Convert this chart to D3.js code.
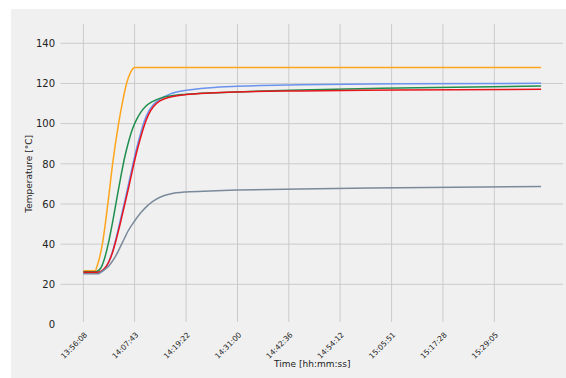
<!DOCTYPE html>
<html><head><meta charset="utf-8">
<script src="https://cdn.jsdelivr.net/npm/d3@7"></script>
<style>
html,body{margin:0;padding:0;background:#fff;}
svg{display:block;}
text{font-family:"DejaVu Sans",sans-serif;fill:#222;}
</style></head>
<body>
<svg id="chart" width="566" height="378"></svg>
<script>
// ---- data (minutes since 13:56:08, temperature in °C) ----
const startTime = "13:56:08";
const tickLabels = ["13:56:08","14:07:43","14:19:22","14:31:00","14:42:36","14:54:12","15:05:51","15:17:28","15:29:05"];
const yTicks = [0,20,40,60,80,100,120,140];

const orangeMin = [0, 2.62, 3.23, 4.29, 5.64, 6.61, 7.96, 8.87, 9.77, 10.67, 11.64, 103.54];
const orangeVal = [26.8, 26.8, 30, 40, 62, 80, 100, 111, 120, 125.5, 128, 128];

const greenMin = [0, 2.77, 3.90, 4.80, 5.71, 6.61, 7.51, 8.42, 9.32, 10.22, 11.12, 12.02, 12.93, 14.05, 15.63, 17.44, 19.69, 23.30, 28.72, 34.81, 49.03, 71.58, 103.54];
const greenVal = [26.3, 26.3, 28, 33, 41, 51, 62, 73, 83, 91, 97.5, 102, 105.5, 108.5, 111, 112.7, 113.8, 114.6, 115.3, 115.8, 116.8, 117.8, 118.7];

const blueMin = [0, 3.45, 4.80, 5.71, 6.61, 7.51, 8.42, 9.32, 10.22, 11.12, 12.02, 12.93, 13.83, 14.73, 15.86, 17.44, 19.69, 23.30, 28.72, 34.81, 49.03, 71.58, 103.54];
const blueVal = [25.6, 25.7, 27.5, 31, 36.5, 44, 52.5, 61, 70, 79, 87.5, 95, 101.5, 106, 109.5, 112.3, 114.8, 116.6, 117.9, 118.6, 119.3, 119.8, 120.1];

const redMin = [0, 3.23, 4.58, 5.71, 6.61, 7.51, 8.42, 9.32, 10.22, 11.12, 12.02, 12.93, 13.83, 14.73, 15.86, 17.44, 19.69, 23.30, 28.72, 34.81, 49.03, 71.58, 103.54];
const redVal = [26.0, 26.0, 27.5, 31, 36, 43, 51, 59.5, 68, 77, 85.5, 93, 99.5, 104.5, 108.5, 111.5, 113.3, 114.5, 115.3, 115.8, 116.3, 116.7, 117.1];

const grayMin = [0, 3.45, 3.90, 5.71, 7.29, 8.87, 10.22, 11.57, 12.93, 14.28, 15.63, 17.44, 19.69, 23.30, 28.72, 34.81, 49.03, 71.58, 103.54];
const grayVal = [25.3, 25.3, 26, 29, 34, 41, 47, 51.5, 55.5, 58.7, 61.2, 63.5, 65, 66, 66.5, 66.9, 67.5, 68.1, 68.7];

const seriesNames = ["blue","orange","green","red","gray"];
const seriesColors = ["#6a92ee","#ffa51c","#1f8f4e","#e8141c","#7a8a9b"];
const seriesMins = [blueMin, orangeMin, greenMin, redMin, grayMin];
const seriesVals = [blueVal, orangeVal, greenVal, redVal, grayVal];

// ---- drawing ----
const svg = d3.select("#chart");
const W = 566, H = 378;
svg.append("rect").attr("x",11).attr("y",9).attr("width",W-11).attr("height",H-9).attr("fill","#f0f0f0");

const plot = {left:60.5, right:564, top:23.2, bottom:324.5};
const parse = d3.timeParse("%H:%M:%S");
const t0 = parse(startTime);
const dataStart = t0;
const dataEnd = new Date(+t0 + 103.54*60000);
const span = dataEnd - dataStart;
const x = d3.scaleTime()
  .domain([new Date(+dataStart - span*0.05), new Date(+dataEnd + span*0.05)])
  .range([plot.left, plot.right]);
const y = d3.scaleLinear().domain([0,150]).range([plot.bottom, plot.top]);

const tickDates = tickLabels.map(parse);

// grid
const g = svg.append("g");
g.selectAll("line.vg").data(tickDates).enter().append("line")
  .attr("x1",d=>x(d)).attr("x2",d=>x(d))
  .attr("y1",plot.top+1).attr("y2",plot.bottom-2.5)
  .attr("stroke","#cbcbcb").attr("stroke-width",1);
g.selectAll("line.hg").data(yTicks.filter(v=>v>0)).enter().append("line")
  .attr("x1",plot.left).attr("x2",plot.right-1)
  .attr("y1",d=>y(d)).attr("y2",d=>y(d))
  .attr("stroke","#cbcbcb").attr("stroke-width",1);

// axes (labels only, no spines/ticks)
const yAxis = d3.axisLeft(y).tickValues(yTicks).tickSize(0).tickPadding(0);
const ya = svg.append("g").attr("transform",`translate(55,0)`).call(yAxis);
ya.select(".domain").remove();
ya.selectAll("text").attr("font-size","10px").attr("fill","#222").attr("font-family","DejaVu Sans, sans-serif").attr("dx",0);

const xAxis = d3.axisBottom(x).tickValues(tickDates).tickFormat(d3.timeFormat("%H:%M:%S")).tickSize(0);
const xa = svg.append("g").attr("transform",`translate(0,${plot.bottom})`).call(xAxis);
xa.select(".domain").remove();
xa.selectAll("text")
  .attr("font-size","7.5px").attr("fill","#222").attr("font-family","DejaVu Sans, sans-serif")
  .attr("text-anchor","end")
  .attr("dy","0.35em").attr("y",0)
  .attr("transform","translate(2,9) rotate(-45)");

// lines
const line = d3.line().x(d=>x(new Date(+t0 + d[0]*60000))).y(d=>y(d[1])).curve(d3.curveMonotoneX);
seriesNames.forEach((n,i)=>{
  const pts = seriesMins[i].map((m,j)=>[m, seriesVals[i][j]]);
  svg.append("path").datum(pts).attr("d",line)
    .attr("fill","none").attr("stroke",seriesColors[i]).attr("stroke-width",1.5)
    .attr("stroke-linejoin","round");
});

// axis titles
svg.append("text").attr("x",(plot.left+plot.right)/2).attr("y",367)
  .attr("text-anchor","middle").attr("font-size","9px").text("Time [hh:mm:ss]");
svg.append("text").attr("transform",`translate(32,${(plot.top+plot.bottom)/2}) rotate(-90)`)
  .attr("text-anchor","middle").attr("font-size","9px").text("Temperature [°C]");
</script>
</body></html>
